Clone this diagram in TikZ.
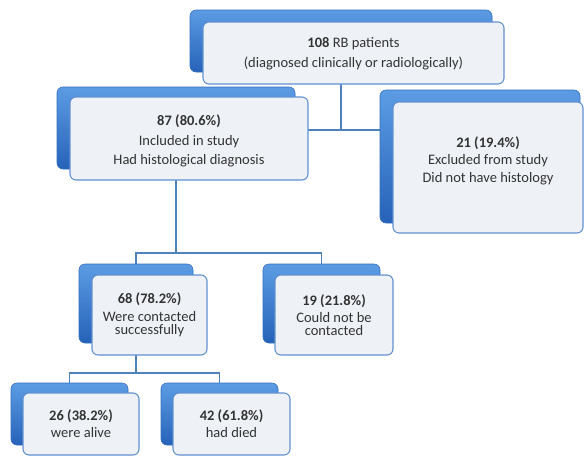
\documentclass[tikz,border=0pt]{standalone}
\usepackage{fontspec}
\setmainfont{Carlito}
\usetikzlibrary{backgrounds}
\definecolor{bluetop}{RGB}{92,156,228}
\definecolor{bluebot}{RGB}{38,98,184}
\definecolor{blueedge}{RGB}{52,110,190}
\definecolor{frontfill}{RGB}{238,242,247}
\definecolor{frontedge}{RGB}{98,145,208}
\definecolor{linkcol}{RGB}{79,129,189}
\definecolor{txt}{RGB}{51,51,51}
\lineskiplimit=-30pt
\begin{document}
\begin{tikzpicture}[x=1pt,y=-1pt,
  backbox/.style={draw=blueedge, line width=0.6pt, rounded corners=6pt,
    top color=bluetop, bottom color=bluebot, inner sep=0pt, outer sep=0pt},
  frontbox/.style={draw=frontedge, line width=1.1pt, rounded corners=6pt,
    fill=frontfill, inner sep=0pt, outer sep=0pt, align=center, text=txt,
    font=\fontsize{14.5}{19.5}\selectfont},
  lead/.style={font=\fontsize{14.5}{#1}\selectfont},
  link/.style={draw=linkcol, line width=1.8pt}]
\useasboundingbox (0,0) rectangle (584,456);
% box 1
\node[backbox, minimum width=302pt, minimum height=62pt] (b1) at (341,41) {};
\node[frontbox, lead=20, minimum width=301pt, minimum height=62pt] (f1) at (353.5,53)
  {\textbf{108} RB patients\\{}(diagnosed clinically or radiologically)\\[-19pt]};
% box 2
\node[backbox, minimum width=238pt, minimum height=82pt] (b2) at (176,128) {};
\node[frontbox, minimum width=238pt, minimum height=83pt] (f2) at (189,138.5)
  {\textbf{87 (80.6\%)}\\Included in study\\Had histological diagnosis\\[-22pt]};
% box 3
\node[backbox, minimum width=200pt, minimum height=133pt] (b3) at (480,156.5) {};
\node[frontbox, lead=17.5, minimum width=190pt, minimum height=131pt] (f3) at (488,167.5)
  {\textbf{21 (19.4\%)}\\Excluded from study\\Did not have histology\\[-1pt]};
% box 4
\node[backbox, minimum width=114pt, minimum height=79pt] (b4) at (136,303.5) {};
\node[frontbox, lead=13.3, minimum width=115pt, minimum height=80pt] (f4) at (149.5,315)
  {\textbf{68 (78.2\%)}\\[4pt]Were contacted\\successfully};
% box 5
\node[backbox, minimum width=117pt, minimum height=79pt] (b5) at (321.5,303.5) {};
\node[frontbox, lead=13.3, minimum width=118pt, minimum height=80pt] (f5) at (334,315)
  {\textbf{19 (21.8\%)}\\[4pt]Could not be\\contacted};
% box 6
\node[backbox, minimum width=117pt, minimum height=62pt] (b6) at (69.5,414) {};
\node[frontbox, lead=17, minimum width=116pt, minimum height=62pt] (f6) at (81,424)
  {\textbf{26 (38.2\%)}\\were alive};
% box 7
\node[backbox, minimum width=117pt, minimum height=62pt] (b7) at (219.5,414) {};
\node[frontbox, lead=17, minimum width=117pt, minimum height=62pt] (f7) at (231.5,424)
  {\textbf{42 (61.8\%)}\\had died};
% junctions
\coordinate (j1) at (342,130);
\coordinate (j2) at (176,253);
\coordinate (j3) at (136,373);
\begin{scope}[on background layer]
  \draw[link] (b1.center) -- (b1.center |- j1);
  \draw[link] (b2.center |- j1) -- (b3.center |- j1);
  \draw[link] (b2.center) -- (j2);
  \draw[link] (b4.center) |- (j2) -| (b5.center);
  \draw[link] (b4.center) -- (j3);
  \draw[link] (b6.center) |- (j3) -| (b7.center);
\end{scope}
\end{tikzpicture}
\end{document}
